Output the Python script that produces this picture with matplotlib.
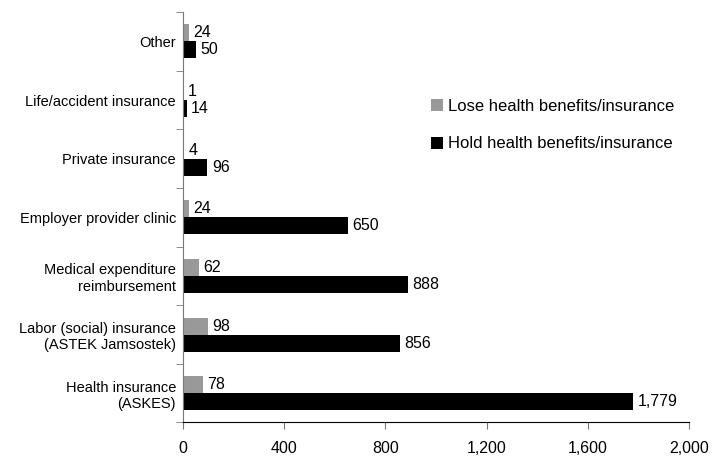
import matplotlib
matplotlib.use('Agg')
import matplotlib.pyplot as plt
import numpy as np

plt.rcParams['font.family'] = ['Liberation Sans', 'DejaVu Sans']

categories = ['Health insurance\n(ASKES)',
              'Labor (social) insurance\n(ASTEK Jamsostek)',
              'Medical expenditure\nreimbursement',
              'Employer provider clinic',
              'Private insurance',
              'Life/accident insurance',
              'Other']
lose = [78, 98, 62, 24, 4, 1, 24]
hold = [1779, 856, 888, 650, 96, 14, 50]
xticks = [0, 400, 800, 1200, 1600, 2000]

fig = plt.figure(figsize=(7.12, 4.57), dpi=100)
ax = fig.add_axes([0.257, 0.0755, 0.711, 0.898])

y = np.arange(len(categories))
h = 0.29
ax.barh(y + h / 2, lose, height=h, color='#999999', label='Lose health benefits/insurance')
ax.barh(y - h / 2, hold, height=h, color='black', label='Hold health benefits/insurance')

for i in range(len(categories)):
    ax.text(lose[i] + 18, y[i] + h / 2, f'{lose[i]:,}', va='center', ha='left', fontsize=11.5)
    ax.text(hold[i] + 18, y[i] - h / 2, f'{hold[i]:,}', va='center', ha='left', fontsize=11.5)

ax.set_xlim(0, 2000)
ax.set_ylim(-0.5, len(categories) - 0.5)
ax.set_xticks(xticks)
ax.set_xticklabels([f'{v:,}' for v in xticks], fontsize=11.5)
ax.set_yticks(y)
ax.set_yticklabels(categories, fontsize=10.5)
ax.tick_params(axis='y', length=0, pad=5)
ax.set_yticks(np.arange(-0.5, len(categories)), minor=True)
ax.tick_params(axis='y', which='minor', length=5, color='#777777', left=True)
ax.tick_params(axis='x', length=5, color='#777777', pad=8)

for s in ['top', 'right']:
    ax.spines[s].set_visible(False)
ax.spines['left'].set_color('#777777')
ax.spines['bottom'].set_color('black')

ax.legend(loc='upper left', bbox_to_anchor=(0.46, 0.825), frameon=False, fontsize=12,
          handlelength=0.75, handleheight=0.75, handletextpad=0.3, labelspacing=1.35)

fig.savefig('out.png', dpi=100)
